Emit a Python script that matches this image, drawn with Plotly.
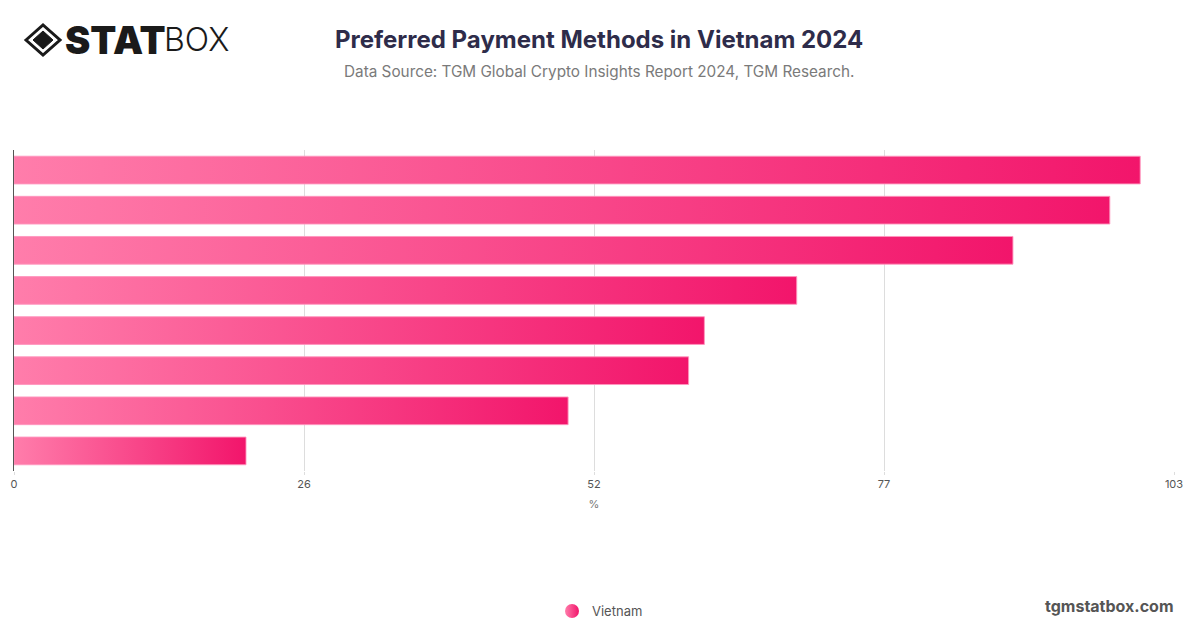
import plotly.graph_objects as go

# Data (category labels are not shown in the reference; ranks used as placeholders)
categories = ["Method 1", "Method 2", "Method 3", "Method 4",
              "Method 5", "Method 6", "Method 7", "Method 8"]
values = [100.0, 97.3, 88.7, 69.5, 61.3, 59.9, 49.2, 20.6]
series_name = "Vietnam"
tick_vals = [0, 25.75, 51.5, 77.25, 103]
tick_text = ["0", "26", "52", "77", "103"]

C_LIGHT = "#ff7dab"
C_DARK = "#f2156b"

W, H = 1200, 628
L, R, T, B = 14, 26, 150, 157
PW, PH = W - L - R, H - T - B


def px(x):
    return (x - L) / PW


def py(y):
    return (H - B - y) / PH


fig = go.Figure()
half = 0.345
for i, (cat, v) in enumerate(zip(categories, values)):
    fig.add_trace(go.Scatter(
        x=[0, v, v, 0, 0],
        y=[i - half, i - half, i + half, i + half, i - half],
        mode="lines",
        fill="toself",
        fillgradient=dict(type="horizontal",
                          colorscale=[[0, C_LIGHT], [1, C_DARK]]),
        line=dict(color="rgba(255,150,190,0.9)", width=1),
        name=cat,
        showlegend=False,
        hoverinfo="skip",
    ))

fig.add_trace(go.Scatter(
    x=[None], y=[None], mode="markers", name=series_name,
    marker=dict(size=14, color=C_LIGHT,
                gradient=dict(type="horizontal", color=C_DARK)),
))

fig.update_xaxes(
    range=[0, 103], tickvals=tick_vals, ticktext=tick_text,
    showgrid=True, gridcolor="#dddddd", gridwidth=1,
    zeroline=False, showline=False,
    ticks="outside", ticklen=3, tickcolor="#dddddd",
    tickfont=dict(family="Inter, Roboto, sans-serif", size=11, color="#555555"),
    title=dict(text="%", font=dict(family="Inter, sans-serif", size=11, color="#777777"),
               standoff=10),
    automargin=False,
    fixedrange=True,
)
fig.update_yaxes(
    range=[len(categories) - 0.5, -0.5],
    showticklabels=False, showgrid=False, zeroline=False,
    showline=True, linecolor="#555555", linewidth=1,
    automargin=False,
    fixedrange=True,
)

ann = []
ann.append(dict(text="Preferred Payment Methods in Vietnam 2024",
                x=px(599), y=py(39), xref="paper", yref="paper",
                xanchor="center", yanchor="middle", showarrow=False,
                font=dict(family="Inter, sans-serif", size=24, color="#2e2c4a", weight=700)))
ann.append(dict(text="Data Source: TGM Global Crypto Insights Report 2024, TGM Research.",
                x=px(599), y=py(71), xref="paper", yref="paper",
                xanchor="center", yanchor="middle", showarrow=False,
                font=dict(family="Inter, sans-serif", size=15.3, color="#7a7a7a")))
ann.append(dict(text="tgmstatbox.com",
                x=px(1176), y=py(606), xref="paper", yref="paper",
                xanchor="right", yanchor="middle", showarrow=False,
                font=dict(family="Inter, sans-serif", size=16, color="#555555", weight=700)))
ann.append(dict(text="STAT",
                x=px(63), y=py(40), xref="paper", yref="paper",
                xanchor="left", yanchor="middle", showarrow=False,
                font=dict(family="Inter, sans-serif", size=38, color="#1a1a1a", weight=900)))
ann.append(dict(text="BOX",
                x=px(162), y=py(40), xref="paper", yref="paper",
                xanchor="left", yanchor="middle", showarrow=False,
                font=dict(family="Inter, sans-serif", size=32, color="#1a1a1a", weight=300)))

# logo icon: outer diamond outline + inner diamond
cx, cy = 43, 40
shapes = [
    dict(type="path", xref="paper", yref="paper",
         path=f"M {px(cx-17)} {py(cy)} L {px(cx)} {py(cy-15)} L {px(cx+17)} {py(cy)} L {px(cx)} {py(cy+15)} Z",
         line=dict(color="#1a1a1a", width=3), fillcolor="rgba(0,0,0,0)"),
    dict(type="path", xref="paper", yref="paper",
         path=f"M {px(cx-10)} {py(cy)} L {px(cx)} {py(cy-9)} L {px(cx+10)} {py(cy)} L {px(cx)} {py(cy+9)} Z",
         line=dict(color="#1a1a1a", width=1), fillcolor="#1a1a1a"),
]

fig.update_layout(
    width=W, height=H,
    margin=dict(l=L, r=R, t=T, b=B, autoexpand=False),
    paper_bgcolor="white", plot_bgcolor="white",
    annotations=ann, shapes=shapes,
    legend=dict(orientation="h", xref="container", yref="container",
                x=0.5, xanchor="center", y=1 - 611 / H, yanchor="middle",
                font=dict(family="Inter, sans-serif", size=13, color="#555555")),
    hovermode=False,
)

fig.write_html(
    "out.html",
    config={"responsive": False, "displayModeBar": False},
    post_script="document.body.style.margin='0';document.body.style.overflow='hidden';",
)
